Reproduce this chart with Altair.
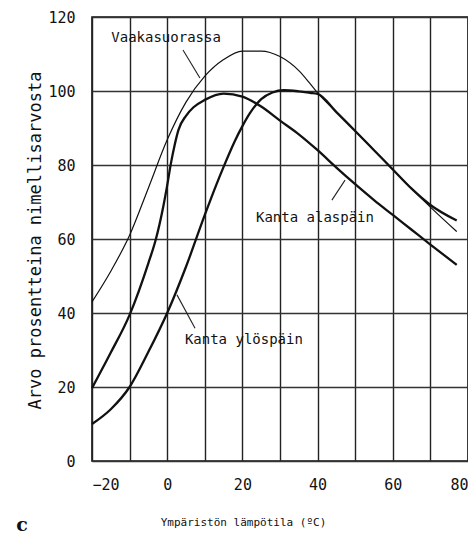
import altair as alt
import pandas as pd

# --- data ---
t_vaaka = [-20, -15, -10, -5, 0, 5, 10, 15, 20, 25, 30, 35, 38, 40, 45, 50, 55, 60, 65, 70, 77]
v_vaaka = [43, 51.3, 61, 73.8, 86.8, 97, 104, 108.5, 110.8, 110.8, 109.3, 105.5, 102, 99.5, 94.3, 89.2, 84, 78.8, 73.6, 68.6, 62]

t_alas = [-20, -15, -10, -5, -3, -1, 0, 1, 2, 3, 5, 7, 10, 15, 20, 25, 30, 35, 40, 45, 50, 55, 60, 65, 70, 77]
v_alas = [19.7, 29.3, 39.5, 53.5, 60, 69, 74.5, 80.5, 85.5, 89.5, 93.3, 95.6, 97.6, 99.3, 98.5, 95.8, 92, 88.3, 84, 79.3, 74.8, 70.5, 66.5, 62.5, 58.5, 53]

t_ylos = [-20, -15, -10, -5, 0, 5, 10, 13, 15, 18, 20, 22, 25, 28, 31, 35, 38, 40, 45, 50, 55, 60, 65, 70, 77]
v_ylos = [10, 14, 20, 29.5, 40, 52.5, 66.5, 74.5, 79.5, 86.5, 90.5, 94, 97.8, 99.6, 100.2, 99.9, 99.5, 99.2, 94.3, 89.2, 84, 78.8, 73.6, 69.2, 65]

label_text = ["Vaakasuorassa", "Kanta alaspäin", "Kanta ylöspäin"]
label_x = [-0.3, 39.3, 20.4]
label_y = [114.3, 65.7, 32.7]

ptr_x1 = [4.2, 43.8, 7.4]
ptr_y1 = [111.1, 70.5, 35.9]
ptr_x2 = [8.7, 47.3, 2.6]
ptr_y2 = [103.5, 75.9, 44.9]

x_ticks = list(range(-20, 81, 10))
y_ticks = [0, 20, 40, 60, 80, 100, 120]

panel_letter = ["c"]
panel_x = [-38.6]
panel_y = [-17.3]

FONT = "DejaVu Sans Mono"

df = pd.concat([
    pd.DataFrame({"t": t_vaaka, "v": v_vaaka, "s": "Vaakasuorassa"}),
    pd.DataFrame({"t": t_alas, "v": v_alas, "s": "Kanta alaspäin"}),
    pd.DataFrame({"t": t_ylos, "v": v_ylos, "s": "Kanta ylöspäin"}),
])
labels = pd.DataFrame({"text": label_text, "x": label_x, "y": label_y})
ptrs = pd.DataFrame({"x1": ptr_x1, "y1": ptr_y1, "x2": ptr_x2, "y2": ptr_y2})
letter = pd.DataFrame({"text": panel_letter, "x": panel_x, "y": panel_y})

xscale = alt.Scale(domain=[-20, 80], nice=False, zero=False)
yscale = alt.Scale(domain=[0, 120], nice=False)

xaxis = alt.Axis(
    values=x_ticks,
    labelExpr="datum.value % 20 == 0 ? datum.label : ''",
    grid=True, gridColor="#222", gridWidth=1.4,
    ticks=False, domain=False,
    labelFont=FONT, labelFontSize=15, labelColor="#111", labelPadding=16,
    title="Ympäristön lämpötila (ºC)",
    titleFont=FONT, titleFontSize=11, titleFontWeight="normal", titleColor="#111",
    titleX=151, titleY=61, titleBaseline="middle", titleAnchor="middle",
)
yaxis = alt.Axis(
    values=y_ticks,
    grid=True, gridColor="#333", gridWidth=1.6,
    ticks=False, domain=False,
    labelFont=FONT, labelFontSize=15, labelColor="#111", labelPadding=17,
    title="Arvo prosentteina nimellisarvosta",
    titleFont=FONT, titleFontSize=17, titleFontWeight="normal", titleColor="#111",
    titleX=-57, titleY=223, titleAngle=-90, titleAlign="center", titleBaseline="middle",
)

base = alt.Chart(df)

def curve(name, width):
    return base.transform_filter(alt.datum.s == name).mark_line(
        color="#111", strokeWidth=width, interpolate="monotone"
    ).encode(
        x=alt.X("t:Q", scale=xscale, axis=xaxis),
        y=alt.Y("v:Q", scale=yscale, axis=yaxis),
        order="t:Q",
    )

lines = curve("Vaakasuorassa", 1.2) + curve("Kanta alaspäin", 2.3) + curve("Kanta ylöspäin", 2.3)

ptr_layer = alt.Chart(ptrs).mark_rule(color="#222", strokeWidth=1.1).encode(
    x=alt.X("x1:Q", scale=xscale, axis=xaxis), y=alt.Y("y1:Q", scale=yscale, axis=yaxis),
    x2="x2:Q", y2="y2:Q",
)

text_layer = alt.Chart(labels).mark_text(
    font=FONT, fontSize=14, color="#111", align="center", baseline="middle"
).encode(x=alt.X("x:Q", scale=xscale, axis=xaxis), y=alt.Y("y:Q", scale=yscale, axis=yaxis), text="text:N")

letter_layer = alt.Chart(letter).mark_text(
    font="DejaVu Serif", fontSize=19, fontWeight="bold", color="#111",
    align="center", baseline="middle", clip=False,
).encode(x=alt.X("x:Q", scale=xscale, axis=xaxis), y=alt.Y("y:Q", scale=yscale, axis=yaxis), text="text:N")

chart = alt.layer(lines, ptr_layer, text_layer, letter_layer).properties(
    width=376, height=444,
    autosize=alt.AutoSizeParams(type="none"),
    padding={"left": 84, "top": 9, "right": 0, "bottom": 76},
    background="white",
).configure_view(stroke="#111", strokeWidth=1.6)

chart.save("out.html", embed_options={"renderer": "svg", "actions": False})
